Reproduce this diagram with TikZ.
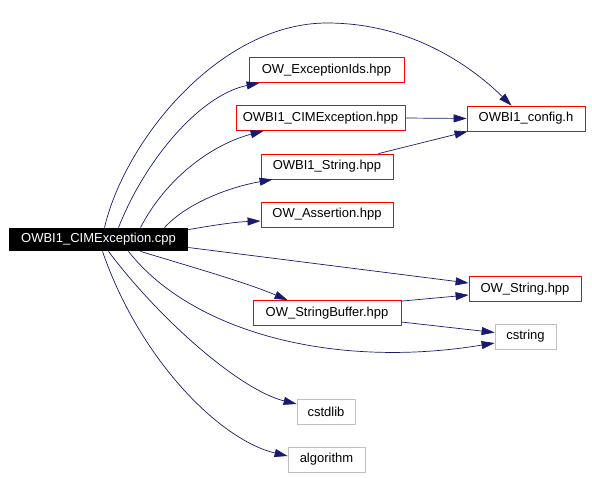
\documentclass[tikz,border=0pt]{standalone}
\usepackage{fontspec}
\setmainfont{Liberation Sans}
\usetikzlibrary{arrows.meta,calc}
\definecolor{dnavy}{rgb}{0.1,0.1,0.44}
\definecolor{lgray}{rgb}{0.75,0.75,0.75}

\begin{document}
\begin{tikzpicture}[x=1pt,y=-1pt,
    file/.style={draw=red,line width=0.8pt,minimum height=25pt,inner sep=0pt,
      font=\fontsize{13}{15}\selectfont},
    sys/.style={file,draw=lgray},
    dep/.style={dnavy,line width=0.7pt,-{Triangle[length=13pt,width=8pt]}}]
\useasboundingbox (0,0) rectangle (592,477);
% source
\node[file,draw=none,fill=black,text=white,minimum width=179pt,minimum height=23pt]
  (cpp) at (98.5,239.5) {OWBI1\_CIMException.cpp};
% project headers
\foreach \n/\x/\y/\w/\t in {exids/326.5/70/155/OW\_ExceptionIds.hpp,
    cimexc/320.5/118/169/OWBI1\_CIMException.hpp,
    owbistr/327/166.5/132/OWBI1\_String.hpp,
    assert/327/214.5/132/OW\_Assertion.hpp,
    strbuf/327/313/148/OW\_StringBuffer.hpp,
    config/526/118.5/118/OWBI1\_config.h,
    owstr/525/289/112/OW\_String.hpp}
  \node[file,minimum width=\w pt] (\n) at (\x,\y) {\t};
% system headers
\foreach \n/\x/\y/\w/\t in {cstring/525.5/336.5/61/cstring,
    cstdlib/326/412/58/cstdlib,
    algo/326.5/459.5/77/algorithm}
  \node[sys,minimum width=\w pt] (\n) at (\x,\y) {\t};
% edges from the source
\draw[dep] ($(cpp.north)+(6,0)$) .. controls (125,140) and (220,23) .. (327,23)
  .. controls (410,23) and (470,65) .. ($(config.north west)+(45,0)$);
\draw[dep] ($(cpp.north)+(20,0)$) .. controls (145,160) and (200,95) .. ($(exids.south west)+(11,0)$);
\draw[dep] ($(cpp.north)+(42,0)$) .. controls (165,180) and (210,145) .. ($(cimexc.south west)+(28,0)$);
\draw[dep] ($(cpp.north)+(66,0)$) .. controls (185,205) and (225,188) .. ($(owbistr.south west)+(12,0)$);
\draw[dep] ($(cpp.north east)+(0,2)$) .. controls (215,225) and (235,222) .. ($(assert.west)+(0,6.5)$);
\draw[dep] ($(cpp.east)+(0,8)$) -- ($(owstr.west)+(0,-6)$);
\draw[dep] ($(cpp.south)+(42,0)$) .. controls (185,265) and (245,282) .. ($(strbuf.north west)+(35,0)$);
\draw[dep] ($(cpp.south)+(30,0)$) .. controls (190,330) and (330,370) .. ($(cstring.west)+(0,6.5)$);
\draw[dep] ($(cpp.south)+(10,0)$) .. controls (160,320) and (240,390) .. ($(cstdlib.west)+(0,-8)$);
\draw[dep] ($(cpp.south)+(4,0)$) .. controls (140,360) and (220,440) .. ($(algo.west)+(0,-3.5)$);
% edges between headers
\draw[dep] (cimexc.east) -- (config.west);
\draw[dep] ($(owbistr.north east)+(-15,0)$) -- ($(config.south west)+(1,0)$);
\draw[dep] ($(strbuf.north east)+(0,1)$) -- ($(owstr.west)+(0,6)$);
\draw[dep] ($(strbuf.east)+(0,9)$) -- ($(cstring.west)+(0,-4)$);
\end{tikzpicture}
\end{document}
